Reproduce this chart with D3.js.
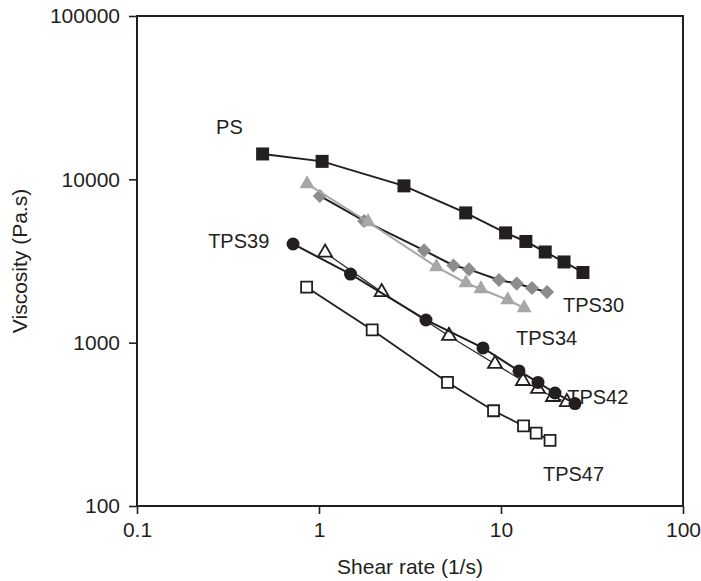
<!DOCTYPE html>
<html>
<head>
<meta charset="utf-8">
<script src="https://cdn.jsdelivr.net/npm/d3@7"></script>
<style>
  body { margin: 0; background: #fff; }
  text { font-family: "Liberation Sans", Arial, sans-serif; fill: #231f20; }
</style>
</head>
<body>
<script>
//DATA (shear rate in 1/s, viscosity in Pa.s)
const psShear = [0.49, 1.04, 2.93, 6.4, 10.6, 13.7, 17.5, 22.2, 28.2]
const psVisc = [14300, 12880, 9120, 6230, 4700, 4165, 3590, 3120, 2690]

const tps30Shear = [1.01, 1.77, 3.78, 5.48, 6.67, 9.75, 12.2, 14.8, 17.9]
const tps30Visc = [7910, 5560, 3670, 2970, 2810, 2420, 2300, 2160, 2040]

const tps34Shear = [0.86, 1.86, 4.42, 6.42, 7.76, 10.9, 13.4]
const tps34Visc = [9370, 5480, 2910, 2320, 2130, 1825, 1630]

const tps39Shear = [0.72, 1.49, 3.87, 7.96, 12.56, 15.97, 19.8, 25.5]
const tps39Visc = [4020, 2630, 1377, 928, 671, 571, 492, 424]

const tps42Shear = [1.08, 2.21, 5.18, 9.27, 13.2, 15.97, 19.3, 23]
const tps42Visc = [3560, 2040, 1100, 741, 583, 521, 465, 433]

const tps47Shear = [0.855, 1.96, 5.08, 9.1, 13.3, 15.6, 18.6]
const tps47Visc = [2185, 1196, 572, 383, 309, 279, 252]

const xTicks = [0.1, 1, 10, 100]
const yTicks = [100, 1000, 10000, 100000]

//SERIES LABELS, anchored in data units
const labelNames = ["PS", "TPS39", "TPS30", "TPS34", "TPS42", "TPS47"]
const labelShear = [0.272, 0.246, 21.9, 12.1, 23.1, 17.0]
const labelVisc = [20900, 4200, 1700, 1069, 464, 157]

//USEFUL VARIABLES
const svgwidth = 701
const svgheight = 581
const margin = {top: 16, right: 18, bottom: 75, left: 137}
const graphwidth = svgwidth - margin.left - margin.right
const graphheight = svgheight - margin.top - margin.bottom

const svg = d3.select("body").append("svg")
  .attr("width", svgwidth)
  .attr("height", svgheight)

const graph = svg.append("g")
  .attr("transform", `translate(${margin.left}, ${margin.top})`)

//SCALES
const X = d3.scaleLog().domain([0.1, 100]).range([0, graphwidth])
const Y = d3.scaleLog().domain([100, 100000]).range([graphheight, 0])

//AXES
graph.append("g")
  .attr("transform", `translate(0, ${graphheight})`)
  .call(d3.axisBottom(X).tickValues(xTicks).tickFormat(d => String(d)).tickSize(8).tickPadding(8).tickSizeOuter(0))
graph.append("g")
  .call(d3.axisLeft(Y).tickValues(yTicks).tickFormat(d => String(d)).tickSize(8).tickPadding(9).tickSizeOuter(0))

graph.selectAll(".domain").remove()
graph.selectAll(".tick line").attr("stroke", "#231f20").attr("stroke-width", 1.6)
graph.selectAll(".tick text")
  .style("font-size", "21px")
  .attr("fill", "#231f20")
  .style("font-family", "'Liberation Sans', Arial, sans-serif")

//BOX
graph.append("rect")
  .attr("x", 0).attr("y", 0)
  .attr("width", graphwidth).attr("height", graphheight)
  .attr("fill", "none")
  .attr("stroke", "#231f20")
  .attr("stroke-width", 2)

//AXIS TITLES
svg.append("text")
  .attr("x", margin.left + graphwidth / 2)
  .attr("y", 574)
  .attr("text-anchor", "middle")
  .style("font-size", "21px")
  .text("Shear rate (1/s)")

svg.append("text")
  .attr("transform", `translate(27, ${margin.top + graphheight / 2}) rotate(-90)`)
  .attr("text-anchor", "middle")
  .style("font-size", "21px")
  .text("Viscosity (Pa.s)")

//SERIES
const series = [
  {shear: tps30Shear, visc: tps30Visc, line: "#231f20", lw: 2, shape: "diamond", size: 10, fill: "#8c8c8c", stroke: "none"},
  {shear: tps34Shear, visc: tps34Visc, line: "#a7a7a7", lw: 2, shape: "triangle", size: 15, fill: "#a7a7a7", stroke: "none"},
  {shear: psShear, visc: psVisc, line: "#231f20", lw: 2, shape: "square", size: 13, fill: "#231f20", stroke: "none"},
  {shear: tps47Shear, visc: tps47Visc, line: "#231f20", lw: 1.8, shape: "square", size: 11, fill: "#fff", stroke: "#231f20"},
  {shear: tps42Shear, visc: tps42Visc, line: "#231f20", lw: 1.2, shape: "triangle", size: 14, fill: "#fff", stroke: "#231f20"},
  {shear: tps39Shear, visc: tps39Visc, line: "#231f20", lw: 2, shape: "circle", size: 13, fill: "#231f20", stroke: "none"}
]

const symbolFor = s => {
  if (s.shape == "circle") return d3.symbol(d3.symbolCircle, Math.PI * (s.size / 2) ** 2)
  if (s.shape == "triangle") return d3.symbol(d3.symbolTriangle, Math.sqrt(3) / 4 * s.size * s.size)
  return d3.symbol(d3.symbolSquare, s.size * s.size)
}

const line = d3.line().x(d => X(d[0])).y(d => Y(d[1]))

series.forEach(s => {
  const pts = s.shear.map((x, i) => [x, s.visc[i]])
  const g = graph.append("g")
  g.append("path")
    .attr("d", line(pts))
    .attr("fill", "none")
    .attr("stroke", s.line)
    .attr("stroke-width", s.lw)
  g.selectAll("path.pt").data(pts)
    .enter().append("path").classed("pt", true)
    .attr("d", symbolFor(s))
    .attr("transform", d => `translate(${X(d[0])}, ${Y(d[1])})` + (s.shape == "diamond" ? " rotate(45)" : ""))
    .attr("fill", s.fill)
    .attr("stroke", s.stroke)
    .attr("stroke-width", s.stroke == "none" ? 0 : 1.8)
})

//LABELS
graph.selectAll(".series-label").data(labelNames)
  .enter().append("text").classed("series-label", true)
  .attr("x", (d, i) => X(labelShear[i]))
  .attr("y", (d, i) => Y(labelVisc[i]))
  .attr("dy", "0.35em")
  .style("font-size", "20px")
  .text(d => d)
</script>
</body>
</html>
